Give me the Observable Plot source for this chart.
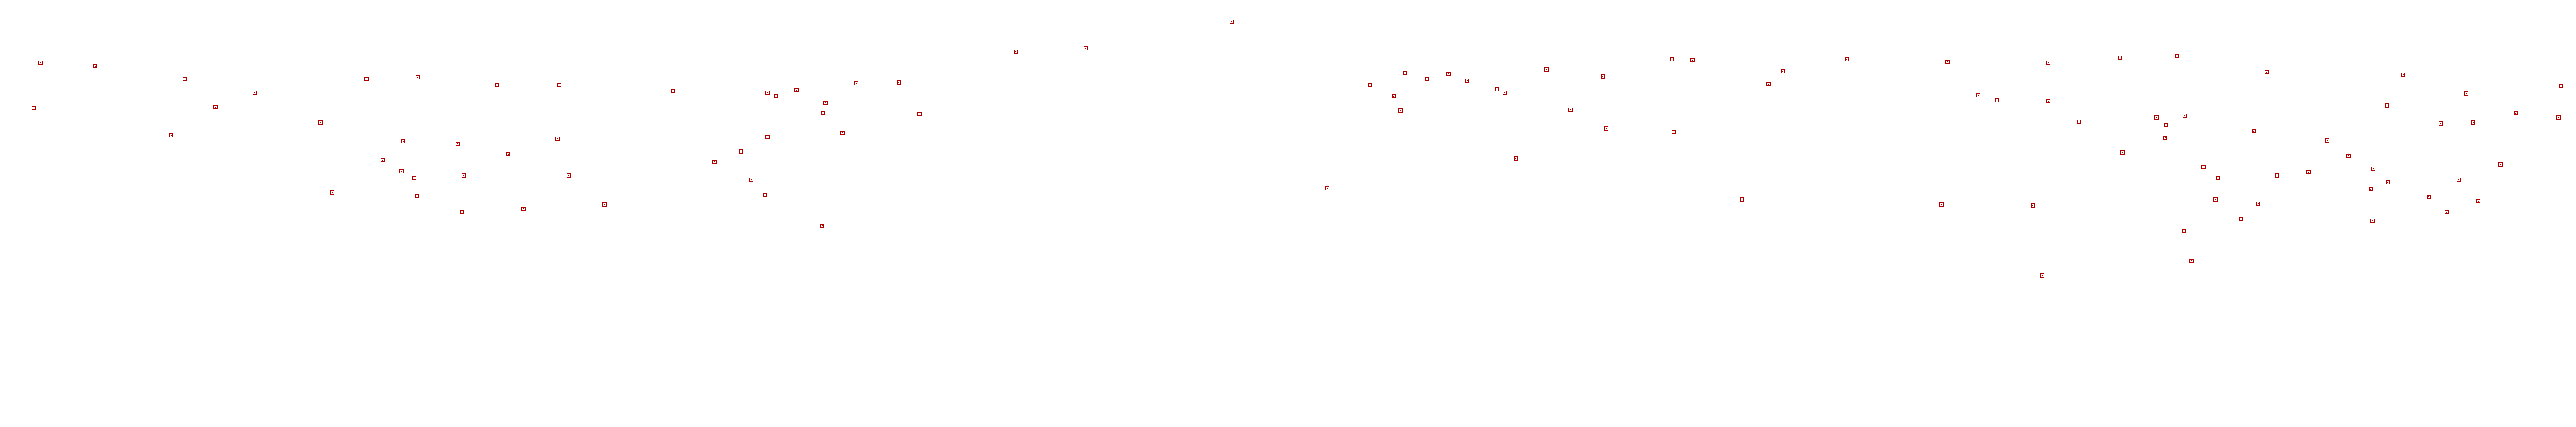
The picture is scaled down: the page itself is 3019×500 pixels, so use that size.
<!DOCTYPE html>
<html>
<head>
<meta charset="utf-8">
<script src="https://cdn.jsdelivr.net/npm/d3@7"></script>
<script src="https://cdn.jsdelivr.net/npm/@observablehq/plot@0.6"></script>
<style>
  html, body { margin: 0; padding: 0; background: #fff; }
  #chart svg { display: block; max-width: none; }
</style>
</head>
<body>
<div id="chart"></div>
<script>
// Horizontal positions of the points
const xs = [
  39, 47, 111, 200, 216, 252, 298, 375, 389, 429, 448, 470, 472, 485, 488, 489,
  536, 541, 543, 582, 595, 613, 653, 655, 666, 708, 788, 837, 868, 880, 896, 899,
  899, 909, 933, 963, 964, 967, 987, 1003, 1053, 1077, 1190, 1272, 1443, 1555, 1605, 1633,
  1641, 1646, 1672, 1697, 1719, 1754, 1763, 1776, 1812, 1840, 1878, 1882, 1959, 1961, 1983, 2041,
  2072, 2089, 2164, 2275, 2282, 2318, 2340, 2382, 2393, 2400, 2400, 2436, 2484, 2487, 2527, 2537,
  2538, 2551, 2559, 2560, 2568, 2582, 2596, 2599, 2626, 2641, 2646, 2656, 2668, 2705, 2727, 2752,
  2778, 2780, 2781, 2797, 2798, 2816, 2846, 2860, 2867, 2881, 2890, 2898, 2904, 2930, 2948, 2998,
  3001
];
const ys = [
  126, 73, 77, 158, 92, 125, 108, 143, 225, 92, 187, 200, 165, 208, 229, 90,
  168, 248, 205, 99, 180, 244, 162, 99, 205, 239, 106, 189, 177, 210, 228, 108,
  160, 112, 105, 264, 132, 120, 155, 97, 96, 133, 60, 56, 25, 220, 99, 112,
  129, 85, 92, 86, 94, 104, 108, 185, 81, 128, 89, 150, 69, 154, 70, 233,
  98, 83, 69, 239, 72, 111, 117, 240, 322, 73, 118, 142, 67, 178, 137, 161,
  146, 65, 270, 135, 305, 195, 233, 208, 256, 153, 238, 84, 205, 201, 164, 182,
  221, 258, 197, 123, 213, 87, 230, 144, 248, 210, 109, 143, 235, 192, 132, 137,
  100
];

const color = "#b00000";
const data = xs.map((x, i) => ({x, y: ys[i]}));

const chart = Plot.plot({
  width: 3019,
  height: 500,
  margin: 0,
  style: {background: "#fff"},
  x: {type: "linear", domain: [0, 3019], range: [0, 3019], axis: null},
  y: {type: "linear", domain: [0, 500], range: [0, 500], axis: null},
  marks: [
    Plot.dot(data, {
      x: "x", y: "y", symbol: "square",
      r: 4 / Math.sqrt(Math.PI),
      fill: "none", stroke: color, strokeWidth: 1,
      shapeRendering: "crispEdges"
    }),
    Plot.dot(data, {
      x: "x", y: "y", symbol: "square",
      r: 1 / Math.sqrt(Math.PI),
      fill: color, stroke: "none",
      shapeRendering: "crispEdges"
    })
  ]
});
document.getElementById("chart").appendChild(chart);
</script>
</body>
</html>
